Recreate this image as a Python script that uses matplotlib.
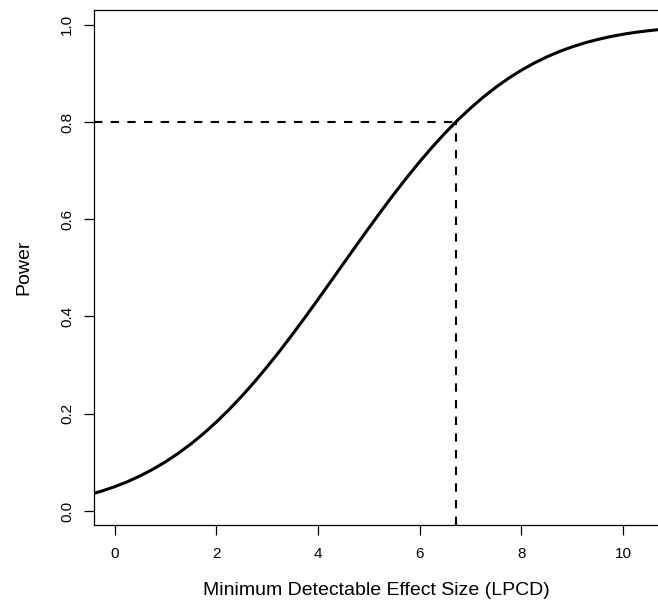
import numpy as np
import matplotlib
matplotlib.use("Agg")
import matplotlib.pyplot as plt

plt.rcParams['font.family'] = ['Liberation Sans', 'DejaVu Sans']

# power curve
effect = [-0.5, -0.25, 0.0, 0.25, 0.5, 0.75, 1.0, 1.25, 1.5, 1.75, 2.0,
          2.25, 2.5, 2.75, 3.0, 3.25, 3.5, 3.75, 4.0, 4.25, 4.5, 4.75,
          5.0, 5.25, 5.5, 5.75, 6.0, 6.25, 6.5, 6.75, 7.0, 7.25, 7.5,
          7.75, 8.0, 8.25, 8.5, 8.75, 9.0, 9.25, 9.5, 9.75, 10.0, 10.25,
          10.5, 10.75]
power = [0.0336, 0.0412, 0.0501, 0.0603, 0.0723, 0.0859, 0.1013, 0.1187,
         0.1381, 0.1596, 0.1831, 0.2087, 0.2362, 0.2657, 0.2970, 0.3296,
         0.3639, 0.3991, 0.4353, 0.4720, 0.5089, 0.5457, 0.5821, 0.6179,
         0.6527, 0.6862, 0.7183, 0.7487, 0.7773, 0.8040, 0.8284, 0.8510,
         0.8714, 0.8899, 0.9063, 0.9209, 0.9337, 0.9448, 0.9544, 0.9626,
         0.9695, 0.9754, 0.9803, 0.9843, 0.9876, 0.9903]

target_power = 0.8
mdes = 6.71

xticks = [0, 2, 4, 6, 8, 10]
yticks = [0.0, 0.2, 0.4, 0.6, 0.8, 1.0]

fig = plt.figure(figsize=(6.58, 6.04), dpi=100)
ax = fig.add_axes([94/658, 79/604, 564/658, 515/604])

xlo, xhi = -0.41, 10.69
ylo, yhi = -0.0288, 1.0302
ax.set_xlim(xlo, xhi)
ax.set_ylim(ylo, yhi)

ax.plot(effect, power, color='black', lw=2.2, solid_joinstyle='round')
ax.plot([xlo, mdes], [target_power, target_power], color='black', lw=1.5,
        ls=(0, (4, 4)))
ax.plot([mdes, mdes], [ylo, target_power], color='black', lw=1.5,
        ls=(0, (4, 4)))

ax.spines['right'].set_visible(False)
for s in ['left', 'bottom', 'top']:
    ax.spines[s].set_linewidth(0.9)

ax.set_xticks(xticks)
ax.set_xticklabels([str(t) for t in xticks])
ax.set_yticks(yticks)
ax.set_yticklabels(['%.1f' % t for t in yticks], rotation=90, va='center')
ax.tick_params(axis='both', direction='out', length=7.2, width=0.9,
               labelsize=11, colors='black')
ax.tick_params(axis='x', pad=9)
ax.tick_params(axis='y', pad=7)

ax.set_xlabel('Minimum Detectable Effect Size (LPCD)', fontsize=14, labelpad=15)
ax.set_ylabel('Power', fontsize=14, labelpad=20)

fig.savefig('out.png', dpi=100)
